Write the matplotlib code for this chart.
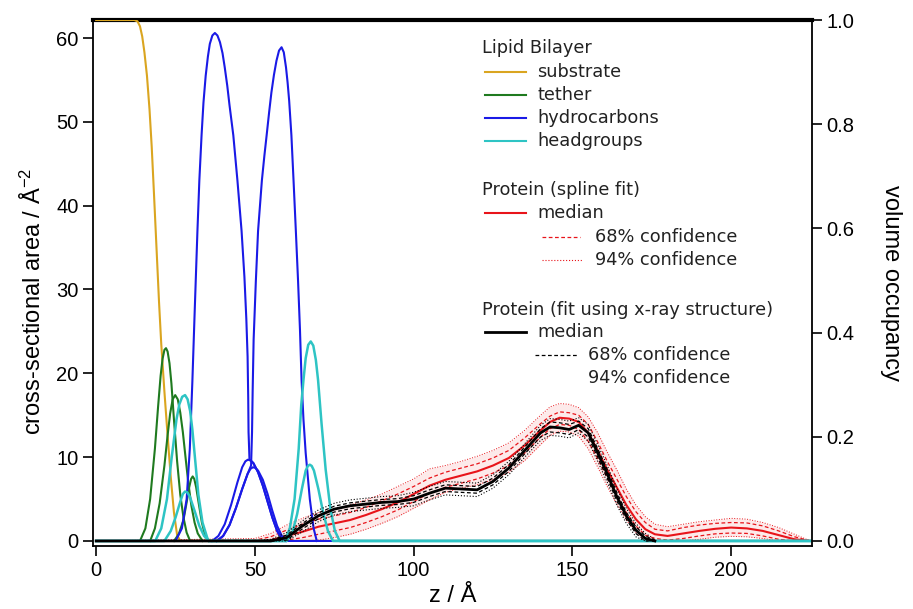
import numpy as np
import matplotlib.pyplot as plt
from matplotlib.lines import Line2D

plt.rcParams['font.family'] = ['Liberation Sans', 'DejaVu Sans']
plt.rcParams['mathtext.default'] = 'regular'

# ---- lipid bilayer ----
sub_z = [0, 12, 13.0, 13.8, 14.5, 15.2, 16.0, 16.8, 17.5, 18.2, 19.0, 19.8, 20.5, 21.5, 22.5, 23.5,
         24.5, 25.5, 26.5, 225]
sub_a = [62.15, 62.15, 62.0, 61.4, 60.2, 58.3, 55.5, 51.5, 47.0, 41.5, 35.0, 28.5, 23.5, 17.8, 12.6,
         7.6, 3.4, 0.7, 0, 0]

teth1_z = [0, 13.8, 15.5, 17, 18.5, 19.5, 20.3, 20.9, 21.5, 22, 22.5, 23.1, 23.7, 24.5, 25.5, 26.5,
           27.5, 28.5, 29.6, 225]
teth1_a = [0, 0, 1.5, 5, 11, 16, 19.7, 21.7, 22.8, 23, 22.6, 21.2, 18.8, 14.5, 9.5, 5.5, 2.8, 1.0,
           0, 0]
teth2_z = [17, 18.5, 20, 21.5, 22.5, 23.3, 24.1, 24.9, 25.7, 26.5, 27.3, 28, 29, 30, 31, 32, 33.5]
teth2_a = [0, 1.5, 4.5, 9, 12.6, 15.2, 16.9, 17.4, 16.9, 15.3, 13.0, 10.5, 7, 4.2, 2.2, 0.9, 0]
teth3_z = [24.5, 26, 27.5, 28.5, 29.3, 29.9, 30.4, 30.9, 31.5, 32.3, 33.3, 34.3, 35.5]
teth3_a = [0, 0.8, 2.5, 4.6, 6.4, 7.4, 7.7, 7.4, 6.4, 4.5, 2.2, 0.7, 0]

hc_in_z = [0, 25, 27, 28.5, 29.5, 30.3, 31, 31.9, 32.5, 33.2, 33.8, 34.5, 35.2, 35.8, 36.6, 37.4,
           38.2, 39, 39.8, 40.5, 41.3, 42, 43.2, 44.5, 45.8, 46.7, 47.3, 47.7, 47.9, 48.0, 48.3,
           49.5, 51, 52.5, 54, 55.5, 57, 58.5, 59.5, 225]
hc_in_a = [0, 0, 1.5, 5, 11, 19, 27, 37, 43, 48.4, 52.3, 55.5, 57.8, 59.3, 60.3, 60.6,
           60.3, 59.5, 58.2, 56.5, 54.3, 52, 48.4, 43, 37, 31.5, 26.5, 22, 17, 13, 9.7,
           9.3, 8.2, 6.6, 4.7, 2.8, 1.2, 0.3, 0, 0]
hc_out_z = [38, 40, 42, 44, 46, 47.7, 48.8, 49.1, 49.3, 49.6, 50.3, 51, 52.2, 53.0, 53.7, 54.5,
            55.2, 56.0, 56.8, 57.6, 58.4, 59.1, 59.8, 60.3, 60.8, 61.5, 62.2, 62.9, 63.6, 64.2,
            64.7, 65.3, 66, 67.3, 68.5, 69.5]
hc_out_a = [0, 0.6, 1.9, 3.9, 6.2, 8.0, 9.0, 13, 18, 24, 31, 37, 43, 46, 48.4, 51.2,
            53.5, 55.6, 57.3, 58.5, 58.9, 58.3, 56.5, 54.7, 52.5, 48.4, 42.8, 37, 31, 25.2,
            19.2, 14.5, 10.5, 5, 1.5, 0]
methyl1_z = [36.5, 38.5, 40.5, 42.5, 44.5, 46, 47, 47.8, 48.7, 49.5, 51, 52.5, 54, 55.5, 57, 58.5, 59.5]
methyl1_a = [0, 0.6, 2.0, 4.3, 7.0, 8.8, 9.5, 9.7, 9.6, 9.3, 8.2, 6.6, 4.7, 2.8, 1.2, 0.3, 0]
methyl2_z = [38, 40, 42, 44, 46, 47.7, 48.6, 49.4, 50.2, 51, 52.5, 54, 55.5, 57, 58.5, 60]
methyl2_a = [0, 0.6, 1.9, 3.9, 6.2, 8.0, 8.6, 8.8, 8.7, 8.4, 7.3, 5.6, 3.6, 1.8, 0.6, 0]

head1_z = [0, 18.6, 20.5, 22.3, 23.8, 25.3, 26.2, 27.1, 28, 28.8, 29.6, 30.3, 31.1, 32.2, 33.5, 35.3,
           59.4, 61, 62.5, 63.8, 64.6, 65.3, 66.0, 66.8, 67.6, 68.4, 69.2, 69.9, 71, 72.3, 73.8,
           75.2, 76.7, 225]
head1_a = [0, 0, 1.5, 5, 10, 14.5, 16.3, 17.2, 17.4, 16.9, 15.5, 13.3, 10, 5.5, 2.2, 0,
           0, 1.5, 5, 11, 16.2, 19.2, 21.8, 23.4, 23.8, 23.3, 21.6, 19.2, 14, 8.5, 3.8,
           1.2, 0, 0]
head2_z = [0, 21.5, 23.5, 25, 26.5, 27.3, 28, 28.7, 29.5, 31, 32.5, 34, 35.5,
           60, 61.8, 63.3, 64.8, 66, 66.7, 67.3, 67.9, 68.6, 70, 71.5, 73, 74.6, 225]
head2_a = [0, 0, 1.2, 2.8, 4.7, 5.6, 5.9, 5.8, 5.3, 3.6, 1.8, 0.6, 0,
           0, 1.0, 3.2, 6.2, 8.4, 8.95, 9.1, 8.95, 8.4, 6.2, 3.4, 1.2, 0, 0]

# ---- protein ----
prot_z = [0, 50, 55, 60, 65, 70, 75, 80, 85, 90, 95, 100, 105, 110, 115, 120, 125, 130, 135, 140,
          143, 146, 149, 152, 155, 158, 161, 164, 167, 170, 173, 176, 180, 185, 190, 195, 200, 205,
          210, 215, 220, 225]
spline_med = [0, 0, 0.1, 0.6, 1.1, 1.7, 2.1, 2.5, 3.1, 3.8, 4.6, 5.6, 6.6, 7.3, 7.8, 8.3, 9.0, 9.9,
              11.4, 13.2, 14.2, 14.7, 14.6, 14.2, 12.9, 10.8, 8.5, 6.4, 4.3, 2.6, 1.4, 0.8, 0.6, 0.9,
              1.2, 1.45, 1.6, 1.5, 1.2, 0.7, 0.2, 0]
spline_68_hi = [0, 0.1, 0.5, 1.3, 2.0, 2.6, 3.0, 3.4, 4.0, 4.8, 5.6, 6.5, 7.5, 8.2, 8.7, 9.2, 9.9,
                10.8, 12.3, 14.0, 14.9, 15.4, 15.3, 15.0, 13.9, 11.8, 9.5, 7.4, 5.3, 3.5, 2.2, 1.4,
                1.2, 1.6, 1.9, 2.1, 2.2, 2.15, 1.8, 1.2, 0.5, 0]
spline_68_lo = [0, 0, 0, 0.1, 0.4, 0.8, 1.2, 1.6, 2.2, 2.9, 3.7, 4.7, 5.7, 6.4, 6.9, 7.4, 8.1, 9.0,
                10.5, 12.4, 13.4, 13.9, 13.8, 13.3, 11.9, 9.8, 7.5, 5.4, 3.4, 1.8, 0.7, 0.3, 0.1,
                0.3, 0.6, 0.85, 0.95, 0.9, 0.6, 0.2, 0, 0]
spline_94_hi = [0, 0.3, 0.9, 1.9, 2.7, 3.4, 3.8, 4.3, 4.9, 5.6, 6.5, 7.4, 8.6, 9.0, 9.5, 10.1, 10.8,
                11.7, 13.2, 15.0, 16.0, 16.4, 16.3, 15.9, 14.8, 12.9, 10.6, 8.5, 6.2, 4.3, 2.9, 2.0,
                1.7, 2.0, 2.3, 2.5, 2.7, 2.6, 2.2, 1.6, 0.8, 0]
spline_94_lo = [0, 0, 0, 0, 0, 0.1, 0.4, 0.8, 1.4, 2.1, 2.9, 3.9, 4.9, 5.8, 6.3, 6.7, 7.3, 8.2, 9.6,
                11.5, 12.6, 13.1, 13.0, 12.5, 11.0, 8.8, 6.5, 4.4, 2.5, 1.0, 0.2, 0, 0, 0, 0.2, 0.45,
                0.55, 0.5, 0.3, 0, 0, 0]

xray_z = prot_z[:32]
xray_med = [0, 0, 0, 0.4, 1.8, 3.0, 3.8, 4.2, 4.4, 4.6, 4.7, 5.0, 5.7, 6.3, 6.2, 6.1, 7.1, 8.7, 10.8,
            12.9, 13.6, 13.5, 13.3, 13.8, 12.9, 10.5, 8.0, 5.3, 3.0, 1.3, 0.3, 0]
xray_68_hi = [0, 0, 0.1, 0.7, 2.1, 3.35, 4.15, 4.55, 4.75, 4.95, 5.05, 5.4, 6.1, 6.7, 6.6, 6.5, 7.5,
              9.1, 11.2, 13.4, 14.2, 14.1, 13.9, 14.3, 13.4, 11.0, 8.5, 5.8, 3.4, 1.7, 0.6, 0.1]
xray_68_lo = [0, 0, 0, 0.1, 1.45, 2.65, 3.45, 3.85, 4.05, 4.25, 4.35, 4.6, 5.3, 5.9, 5.8, 5.7, 6.7,
              8.3, 10.4, 12.4, 13.0, 12.9, 12.7, 13.3, 12.4, 10.0, 7.5, 4.8, 2.6, 0.9, 0, 0]
xray_94_hi = [0, 0, 0.2, 1.0, 2.4, 3.7, 4.5, 4.9, 5.1, 5.3, 5.4, 5.8, 6.5, 7.1, 7.0, 6.9, 7.9, 9.5,
              11.6, 13.8, 14.6, 14.5, 14.3, 14.7, 13.9, 11.5, 9.0, 6.3, 3.9, 2.1, 0.9, 0.2]
xray_94_lo = [0, 0, 0, 0, 1.1, 2.3, 3.1, 3.5, 3.7, 3.9, 4.0, 4.2, 4.9, 5.5, 5.4, 5.3, 6.3, 7.9, 10.0,
              12.0, 12.6, 12.5, 12.3, 12.9, 11.9, 9.5, 7.0, 4.3, 2.1, 0.5, 0, 0]

c_sub = '#DAA520'
c_teth = '#1F7A1F'
c_hc = '#1A1AE6'
c_head = '#2EC4C4'
c_red = '#E8141A'

fig = plt.figure(figsize=(9.13, 6.09), dpi=100)
W, H = 913, 609
ax = fig.add_axes([93 / W, 63 / H, (812 - 93) / W, (589 - 63) / H])

# protein spline fit
ax.fill_between(prot_z, spline_94_lo, spline_94_hi, color='#fdeaea', lw=0, zorder=1)
ax.plot(prot_z, spline_94_hi, color=c_red, lw=0.7, ls=':', zorder=2)
ax.plot(prot_z, spline_94_lo, color=c_red, lw=0.7, ls=':', zorder=2)
ax.plot(prot_z, spline_68_hi, color=c_red, lw=0.9, dashes=(3, 2), zorder=2)
ax.plot(prot_z, spline_68_lo, color=c_red, lw=0.9, dashes=(3, 2), zorder=2)
ax.plot(prot_z, spline_med, color=c_red, lw=1.5, zorder=2)

# lipid bilayer
lw_l = 1.5
ax.plot(sub_z, sub_a, color=c_sub, lw=lw_l, zorder=3)
for z, a in [(teth1_z, teth1_a), (teth2_z, teth2_a), (teth3_z, teth3_a)]:
    ax.plot(z, a, color=c_teth, lw=lw_l, zorder=3)
for z, a in [(hc_in_z, hc_in_a), (hc_out_z, hc_out_a), (methyl1_z, methyl1_a), (methyl2_z, methyl2_a)]:
    ax.plot(z, a, color=c_hc, lw=lw_l, zorder=3)
for z, a in [(head1_z, head1_a), (head2_z, head2_a)]:
    ax.plot(z, a, color=c_head, lw=lw_l + 0.3, zorder=3)

# protein x-ray fit
ax.plot(xray_z, xray_94_hi, color='black', lw=0.8, ls=':', zorder=4)
ax.plot(xray_z, xray_94_lo, color='black', lw=0.8, ls=':', zorder=4)
ax.plot(xray_z, xray_68_hi, color='black', lw=0.9, dashes=(3, 2), zorder=4)
ax.plot(xray_z, xray_68_lo, color='black', lw=0.9, dashes=(3, 2), zorder=4)
ax.plot(xray_z, xray_med, color='black', lw=2.0, zorder=4)

ax.set_xlim(-1, 225.5)
ax.set_ylim(-0.6, 62.15)
ax.set_xticks([0, 50, 100, 150, 200])
ax.set_yticks([0, 10, 20, 30, 40, 50, 60])
ax.tick_params(direction='out', length=7, width=1.2, labelsize=14.5, top=False, right=False)
for s in ['left', 'bottom']:
    ax.spines[s].set_linewidth(1.3)
ax.spines['right'].set_visible(False)
ax.spines['top'].set_linewidth(3)
ax.set_xlabel('z / Å', fontsize=17, labelpad=4)
ax.set_ylabel('cross-sectional area / Å$^{-2}$', fontsize=17)
ax.yaxis.set_label_coords(-0.066, 0.465)

ax2 = ax.twinx()
ax2.set_ylim(-0.6 / 62.15, 1.0)
ax2.set_yticks([0, 0.2, 0.4, 0.6, 0.8, 1.0])
ax2.set_yticklabels(['0.0', '0.2', '0.4', '0.6', '0.8', '1.0'])
ax2.tick_params(direction='out', length=7, width=1.2, labelsize=14.5)
for s in ['left', 'bottom', 'top']:
    ax2.spines[s].set_visible(False)
ax2.spines['right'].set_linewidth(1.3)
ax2.set_ylabel('volume occupancy', fontsize=17, rotation=270, labelpad=34)

# legend drawn by hand
def fx(x):
    return x / W


def fy(y):
    return 1 - y / H


lfont = dict(fontsize=12.8, family='DejaVu Sans', color='#222222', va='center')


def sample(x0, x1, y, **kw):
    fig.add_artist(Line2D([fx(x0), fx(x1)], [fy(y), fy(y)], transform=fig.transFigure, **kw))


fig.text(fx(482), fy(48), 'Lipid Bilayer', **lfont)
rows = [('substrate', c_sub, 72), ('tether', c_teth, 95),
        ('hydrocarbons', c_hc, 118), ('headgroups', c_head, 141)]
for name, col, y in rows:
    sample(485, 526, y, color=col, lw=1.5)
    fig.text(fx(537), fy(y), name, **lfont)

fig.text(fx(482), fy(190), 'Protein (spline fit)', **lfont)
sample(485, 526, 213, color=c_red, lw=1.5)
fig.text(fx(537), fy(213), 'median', **lfont)
sample(542, 580, 237, color=c_red, lw=0.9, dashes=(3, 2))
fig.text(fx(595), fy(237), '68% confidence', **lfont)
sample(542, 582, 260, color=c_red, lw=0.8, ls=':')
fig.text(fx(595), fy(260), '94% confidence', **lfont)

fig.text(fx(482), fy(310), 'Protein (fit using x-ray structure)', **lfont)
sample(485, 526, 332, color='black', lw=2.0)
fig.text(fx(537), fy(332), 'median', **lfont)
sample(535, 578, 355, color='black', lw=0.9, dashes=(3, 2))
fig.text(fx(588), fy(355), '68% confidence', **lfont)
fig.text(fx(588), fy(378), '94% confidence', **lfont)

fig.savefig('out.png', dpi=100)
